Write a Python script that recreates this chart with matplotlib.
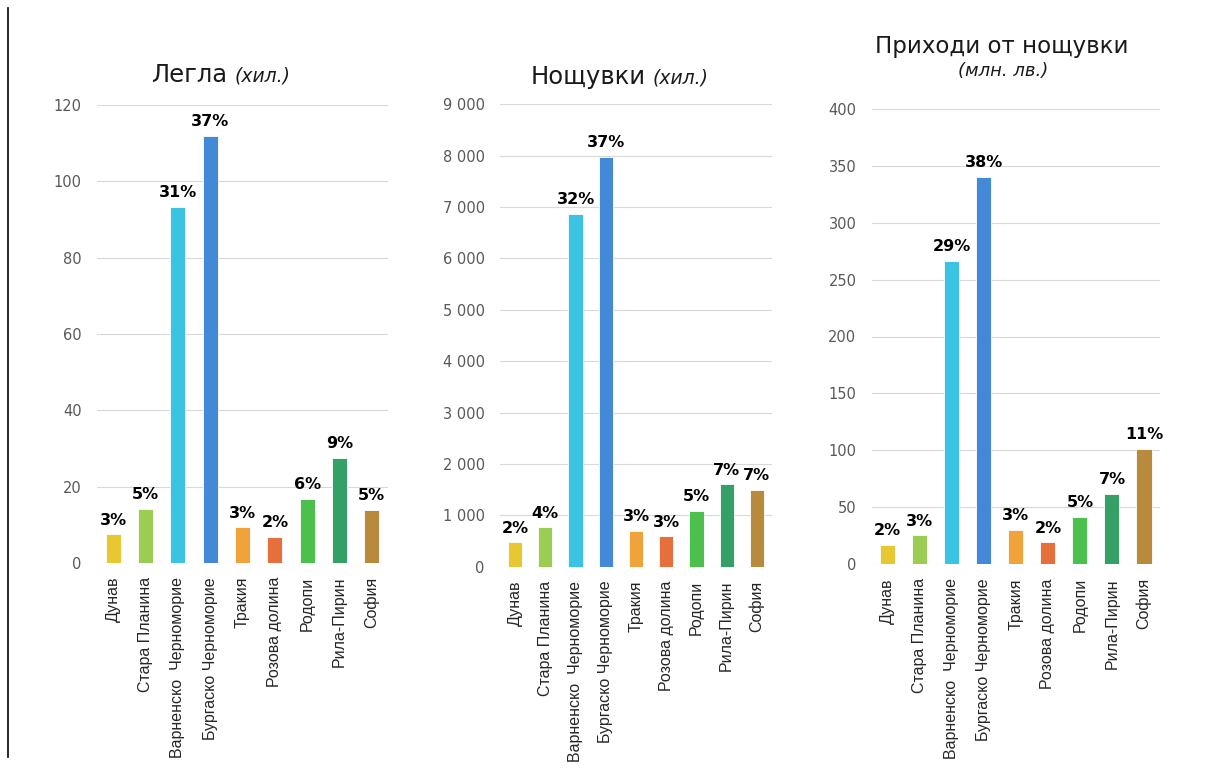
import matplotlib
matplotlib.use("Agg")
import matplotlib.pyplot as plt
from matplotlib.offsetbox import TextArea, HPacker, AnnotationBbox
from matplotlib.lines import Line2D
from matplotlib.ticker import FuncFormatter

plt.rcParams["font.family"] = ["DejaVu Sans"]

categories = ["Дунав", "Стара Планина", "Варненско  Черноморие", "Бургаско Черноморие",
              "Тракия", "Розова долина", "Родопи", "Рила-Пирин", "София"]
colors = ["#E8C832", "#9BCD55", "#3AC3E3", "#4488D8", "#EFA33A",
          "#E5703C", "#4CBF4C", "#35A065", "#B88A3C"]

beds = [7.5, 14.1, 93.3, 111.9, 9.35, 6.9, 16.8, 27.5, 13.9]
beds_pct = ["3%", "5%", "31%", "37%", "3%", "2%", "6%", "9%", "5%"]

nights = [474, 765, 6862, 7981, 699, 590, 1082, 1600, 1489]
nights_pct = ["2%", "4%", "32%", "37%", "3%", "3%", "5%", "7%", "7%"]

revenue = [16.9, 25.5, 266.3, 340.3, 30.4, 19.3, 41.5, 61.7, 101.5]
revenue_pct = ["2%", "3%", "29%", "38%", "3%", "2%", "5%", "7%", "11%"]

W, H = 1206, 772
fig = plt.figure(figsize=(W / 100, H / 100), dpi=100)
fig.patch.set_facecolor("white")

def px_axes(left, right, top, bottom):
    return [left / W, 1 - bottom / H, (right - left) / W, (bottom - top) / H]

def thousands(v, pos):
    return "{:,.0f}".format(v).replace(",", " ")

specs = [
    (px_axes(97, 388, 105, 563), beds, beds_pct, 120, 20, None),
    (px_axes(500, 772, 104.3, 566.7), nights, nights_pct, 9000, 1000, thousands),
    (px_axes(871.7, 1160, 108.7, 564.3), revenue, revenue_pct, 400, 50, None),
]

for rect, vals, pcts, ymax, step, fmt in specs:
    ax = fig.add_axes(rect)
    x = list(range(len(categories)))
    ax.bar(x, vals, width=0.47, color=colors, edgecolor="white", linewidth=0.6, zorder=3)
    ax.set_xlim(-0.5, len(categories) - 0.5)
    ax.set_ylim(0, ymax)
    ax.set_yticks([i * step for i in range(int(ymax / step) + 1)])
    if fmt:
        ax.yaxis.set_major_formatter(FuncFormatter(fmt))
    ax.set_xticks(x)
    ax.set_xticklabels(categories, rotation=90, fontsize=11.5, family="Liberation Sans", color="#262626")
    for lab in ax.get_yticklabels():
        lab.set_family("DejaVu Sans")
    ax.grid(axis="y", color="#D9D9D9", linewidth=0.8, zorder=0)
    for s in ax.spines.values():
        s.set_visible(False)
    ax.tick_params(axis="both", length=0)
    ax.tick_params(axis="y", pad=11, labelsize=10.5, labelcolor="#595959")
    ax.tick_params(axis="x", pad=10)
    for xi, v, p in zip(x, vals, pcts):
        ax.annotate(p, (xi, v), xytext=(0, 7), textcoords="offset points",
                    ha="center", va="baseline", fontsize=11.5, fontweight="bold",
                    color="#000000", family="DejaVu Sans")

def title_box(parts, cx, cy):
    areas = [TextArea(t, textprops=dict(fontsize=fs, style=st, color="#1a1a1a", family="DejaVu Sans"))
             for t, fs, st in parts]
    box = HPacker(children=areas, align="baseline", pad=0, sep=5)
    ab = AnnotationBbox(box, (cx / W, 1 - cy / H), xycoords="figure fraction",
                        frameon=False, box_alignment=(0.5, 0.5))
    fig.add_artist(ab)

title_box([("Легла", 17.5, "normal"), ("(хил.)", 13.5, "italic")], 221, 75)
title_box([("Нощувки", 17.5, "normal"), ("(хил.)", 13.5, "italic")], 620, 77)
fig.text(1002 / W, 1 - 46 / H, "Приходи от нощувки", ha="center", va="center",
         fontsize=16.5, color="#1a1a1a", family="DejaVu Sans")
fig.text(1003 / W, 1 - 71 / H, "(млн. лв.)", ha="center", va="center",
         fontsize=13, style="italic", color="#1a1a1a", family="DejaVu Sans")

fig.add_artist(Line2D([7.5 / W, 7.5 / W], [1 - 8 / H, 1 - 757 / H], color="black", linewidth=1.2,
                      transform=fig.transFigure))

fig.savefig("out.png", dpi=100, facecolor="white")
